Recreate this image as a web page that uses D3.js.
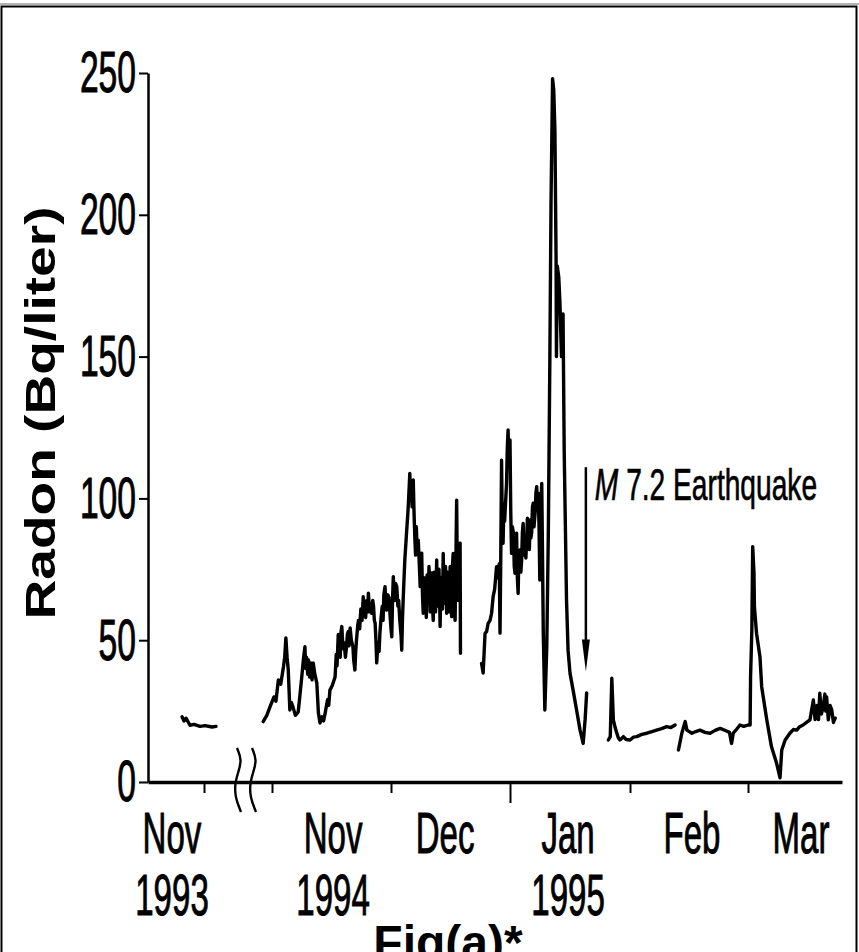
<!DOCTYPE html>
<html>
<head>
<meta charset="utf-8">
<script src="https://cdn.jsdelivr.net/npm/d3@7"></script>
<style>
  body { margin: 0; background: #fff; }
  svg { display: block; }
</style>
</head>
<body>
<svg id="chart" width="859" height="952"></svg>
<script>
// Radon concentration in groundwater (Bq/liter).
// Time is counted in days from 1 Nov 1994 (negative = 1993 record).
const radon1993 = [
  [-346, 23], [-345, 21.5], [-344, 22.5], [-342, 20], [-340, 20.3],
  [-337, 19.6], [-334.5, 19.9], [-331, 19.4], [-329, 19.6]
];
const radonNovDec = [
  [-2.2, 21.3], [-1.3, 23.5], [-0.5, 26.5], [0.5, 30], [1.0, 28.5], [1.6, 36], [2.2, 34.5],
  [2.9, 40.7], [3.2, 44], [3.5, 50.8], [3.8, 44], [4.1, 39.5], [4.5, 25.4], [4.9, 28],
  [5.3, 26.4], [5.9, 23.5], [6.6, 24.7], [7.0, 30], [7.5, 37], [7.9, 43], [8.3, 47.7],
  [8.5, 40], [8.7, 44], [9.0, 38], [9.2, 43], [9.5, 37], [9.8, 42], [10.1, 36],
  [10.4, 42], [10.8, 38], [11.3, 34.9], [11.7, 24.3], [12.1, 20.8], [12.6, 23],
  [13.0, 21.5], [13.4, 24.3], [14.0, 29], [14.3, 27], [14.6, 32.4], [15.2, 34],
  [15.9, 37], [16.2, 45], [16.4, 41], [16.7, 52], [16.9, 46], [17.2, 44], [17.4, 53],
  [17.6, 54.8], [17.9, 47], [18.2, 49], [18.5, 44], [18.8, 47.7], [19.0, 52], [19.2, 53],
  [19.4, 48], [19.7, 54.3], [20.0, 50], [20.4, 47.7], [20.6, 43], [20.9, 39.5], [21.1, 46],
  [21.3, 50], [21.6, 55], [21.8, 57], [22.1, 54], [22.4, 61], [22.7, 57], [23.0, 65.3],
  [23.3, 60], [23.6, 58], [23.9, 64], [24.1, 60], [24.3, 66.6], [24.6, 60], [24.8, 63],
  [25.1, 59.5], [25.4, 64], [25.6, 62], [25.8, 57], [26.0, 56], [26.2, 50], [26.4, 42],
  [26.7, 49], [27.0, 46], [27.2, 52.5], [27.5, 58], [27.8, 62], [28.0, 57], [28.2, 66],
  [28.5, 68.9], [28.7, 62], [28.9, 60.6], [29.2, 66], [29.5, 65], [29.8, 58], [30.0, 54],
  [30.2, 51.2], [30.4, 64], [30.6, 72.4], [30.8, 66], [31.0, 64], [31.2, 70], [31.5, 68.9],
  [31.8, 62], [32.0, 64], [32.3, 57], [32.6, 52], [32.8, 46.5], [33.0, 58], [33.2, 65.3],
  [33.6, 78.3], [34.1, 88.9], [34.4, 95], [34.6, 100], [34.9, 108.8], [35.1, 100],
  [35.3, 104], [35.5, 97], [35.8, 106.5], [36.0, 95], [36.2, 86.5], [36.4, 80], [36.6, 90],
  [36.8, 82], [37.1, 85.3], [37.4, 76], [37.6, 68.9], [37.8, 79], [38.0, 80.7], [38.2, 66],
  [38.4, 59.5], [38.6, 72], [38.8, 64], [39.0, 70], [39.2, 58], [39.4, 73], [39.7, 66.5],
  [39.9, 76], [40.2, 60], [40.4, 71], [40.6, 73.7], [40.8, 62], [41.0, 57], [41.2, 74],
  [41.4, 70], [41.6, 60], [41.9, 78.3], [42.1, 64], [42.3, 62], [42.5, 75], [42.8, 54.8],
  [43.0, 72], [43.2, 70], [43.4, 61], [43.6, 80.6], [43.8, 63], [44.0, 66], [44.2, 76],
  [44.5, 59.5], [44.7, 74], [45.0, 72], [45.2, 60], [45.4, 75.9], [45.6, 64], [45.8, 58.3],
  [46.0, 76], [46.2, 80.6], [46.4, 62], [46.7, 57], [46.9, 78], [47.1, 99.4], [47.3, 70],
  [47.5, 64], [47.7, 82], [48.0, 84.2], [48.1, 45.4]
];
const radonDecJan = [
  [53.6, 41.8], [54.0, 38.4], [54.5, 52.4], [54.9, 53], [55.3, 55.9], [55.8, 57], [56.2, 59.5],
  [56.6, 65.3], [57.0, 68], [57.5, 75.9], [57.8, 72], [58.2, 77], [58.4, 52.5], [58.6, 80],
  [58.8, 113.5], [59.0, 90], [59.2, 84.2], [59.4, 98], [59.6, 92], [59.9, 100], [60.1, 105.3],
  [60.3, 118], [60.5, 124.1], [60.7, 112], [61.0, 120.6], [61.2, 95], [61.4, 80.6],
  [61.6, 90], [61.9, 87.7], [62.1, 76], [62.3, 73.6], [62.5, 86], [62.7, 87.7], [62.9, 72],
  [63.1, 66.5], [63.3, 80], [63.6, 81.8], [63.8, 74], [64.0, 78], [64.2, 88], [64.4, 91.2],
  [64.6, 80], [64.9, 86], [65.1, 79], [65.3, 85.3], [65.5, 93], [65.8, 90], [66.0, 82],
  [66.2, 92.4], [66.4, 86], [66.6, 88], [66.8, 97], [67.0, 98.3], [67.2, 90], [67.5, 95],
  [67.7, 102], [67.9, 104.1], [68.1, 96], [68.3, 101.8], [68.5, 90], [68.7, 71.2], [68.9, 95],
  [69.2, 105.3], [69.4, 80], [69.6, 52.4], [70.0, 25.4], [70.5, 47.7], [70.9, 87.7],
  [71.3, 150], [71.6, 205], [72.0, 248], [72.3, 244], [72.6, 230], [72.9, 185], [73.0, 150],
  [73.2, 182], [73.6, 178], [73.9, 169], [74.3, 150], [74.7, 165], [75.0, 117], [75.2, 99.4],
  [75.6, 64.2], [76.0, 46.5], [76.5, 38.4], [77.3, 32.4], [78.2, 25.4], [79.1, 18.3],
  [79.9, 13.6], [80.4, 21.9], [80.8, 31.4]
];
const radonJanFeb = [
  [86.4, 14.8], [86.9, 16], [87.3, 36.6], [87.7, 21.9], [88.2, 19], [88.6, 17.2],
  [89.0, 15.5], [89.4, 14.8], [90.3, 16], [91.0, 15], [92.0, 14.8], [92.8, 15.8],
  [93.6, 16], [94.8, 16.8], [96.0, 17.2], [97.2, 17.8], [98.3, 18.3], [99.5, 18.8],
  [100.7, 19.5], [101.7, 19.2], [102.7, 20.1]
];
const radonFebMar = [
  [103.5, 11.3], [104.3, 17.2], [105.1, 21.3], [105.5, 18.3], [106.7, 17.2], [107.6, 17.8],
  [108.6, 18.3], [109.8, 17.5], [111.0, 17.2], [112.2, 18.2], [113.4, 18.9], [114.9, 18],
  [115.6, 17.5], [116.1, 13.6], [116.5, 17.2], [117.3, 18.6], [118.1, 20.1], [119.0, 19.6],
  [120.0, 20.1], [120.5, 20.1], [120.6, 37.1], [120.9, 53.6], [121.1, 83], [121.4, 73.6],
  [121.5, 61.8], [122.0, 52.4], [122.8, 44.2], [123.2, 33.6], [124.4, 21.9], [125.5, 12.4],
  [126.7, 6.6], [127.5, 1.5], [127.9, 11.3], [128.7, 14.8], [129.8, 17.2], [130.6, 18.5],
  [131.4, 18.3], [132.1, 19.5], [132.9, 20.1], [133.7, 21], [134.5, 21.9], [135.3, 28.9],
  [135.7, 22], [136.1, 27], [136.5, 22], [136.8, 31.3], [137.2, 24], [137.6, 26.5],
  [138.0, 31], [138.2, 25], [138.4, 30], [138.8, 21.9], [139.2, 27], [139.6, 25.4],
  [140.0, 21], [140.4, 22.5]
];
const segments = [radon1993, radonNovDec, radonDecJan, radonJanFeb, radonFebMar];

const yTicks = [0, 50, 100, 150, 200, 250];
const monthTicks = [-335, 0, 30, 61, 92, 120];   // month boundaries
const yearTicks = [61];                          // 1 Jan 1995
const monthLabels = [
  { day: -351, month: "Nov", year: "1993" },
  { day: 15.4, month: "Nov", year: "1994" },
  { day: 44.1, month: "Dec", year: "" },
  { day: 76.0, month: "Jan", year: "1995" },
  { day: 106.7, month: "Feb", year: "" },
  { day: 132.4, month: "Mar", year: "" }
];
const axisBreak = [-317, -5];
const quake = { day: 80.6, from: 111, to: 39, mag: "M", text: "7.2 Earthquake" };

const svg = d3.select("#chart");
const FONT = "'Liberation Sans', Arial, Helvetica, sans-serif";
const NARROW = 0.57;

// Broken time axis: 1993 stretch, gap, then Nov 1994 – Mar 1995
const x = d3.scaleLinear()
  .domain([-363, -335, -317, -5, 0, 30, 61, 92, 120, 142])
  .range([148, 204, 240, 252, 272, 391, 510, 630, 748, 842]);
const y = d3.scaleLinear().domain([0, 250]).range([782, 73]);

// page frame
svg.append("line").attr("x1", 0).attr("x2", 859).attr("y1", 4).attr("y2", 4)
  .attr("stroke", "#999").attr("stroke-width", 1.5);
svg.append("rect").attr("x", 1.5).attr("y", 6.5).attr("width", 855).attr("height", 1000)
  .attr("fill", "none").attr("stroke", "#000").attr("stroke-width", 2);

// radon trace
const line = d3.line().x(d => x(d[0])).y(d => y(d[1]));
svg.append("g").selectAll("path").data(segments).join("path")
  .attr("d", line)
  .attr("fill", "none").attr("stroke", "#000")
  .attr("stroke-width", 3.4).attr("stroke-linejoin", "round").attr("stroke-linecap", "round");

// y axis
const gy = svg.append("g").attr("transform", `translate(${x.range()[0]},0)`)
  .call(d3.axisLeft(y).tickValues(yTicks).tickSize(9).tickSizeOuter(0));
gy.select(".domain").attr("stroke-width", 2.5);
gy.selectAll(".tick line").attr("stroke-width", 2);
gy.selectAll(".tick text")
  .attr("font-family", FONT).attr("font-size", 57).attr("fill", "#000")
  .attr("stroke", "#000").attr("stroke-width", 1)
  .attr("transform", `scale(${NARROW + 0.02},1)`)
  .attr("x", -12 / (NARROW + 0.02)).attr("dy", "0.33em");

// x axis
const gx = svg.append("g").attr("transform", `translate(0,${y(0)})`)
  .call(d3.axisBottom(x).tickValues(monthTicks).tickSize(11).tickSizeOuter(0).tickFormat(""));
gx.select(".domain").attr("stroke-width", 3.5);
gx.selectAll(".tick line").attr("stroke-width", 2)
  .attr("y2", d => yearTicks.includes(d) ? 21 : 11);

// axis break marks
const breakShape = [[0, -34], [5, -22], [1, -9], [-2, 1], [-2, 15], [4, 30]];
const breakLine = d3.line().curve(d3.curveBasis);
svg.append("g").selectAll("path").data([x(axisBreak[0]) - 3, x(axisBreak[1]) + 0]).join("path")
  .attr("d", bx => breakLine(breakShape.map(p => [bx + p[0], y(0) + p[1]])))
  .attr("fill", "none").attr("stroke", "#000").attr("stroke-width", 2.4);

// month and year labels
const lab = svg.append("g").attr("font-family", FONT).attr("font-size", 58)
  .attr("text-anchor", "middle").attr("fill", "#000")
  .attr("stroke", "#000").attr("stroke-width", 1);
lab.selectAll("text.m").data(monthLabels).join("text").attr("class", "m")
  .attr("transform", d => `translate(${x(d.day)},853) scale(${NARROW},1)`)
  .text(d => d.month);
lab.selectAll("text.yr").data(monthLabels.filter(d => d.year)).join("text").attr("class", "yr")
  .attr("transform", d => `translate(${x(d.day)},915) scale(${NARROW},1)`)
  .text(d => d.year);

// y axis title
svg.append("text")
  .attr("transform", "translate(55,413) rotate(-90)")
  .attr("text-anchor", "middle")
  .attr("font-family", FONT).attr("font-weight", "bold").attr("font-size", 42)
  .attr("textLength", 413).attr("lengthAdjust", "spacingAndGlyphs")
  .text("Radon (Bq/liter)");

// earthquake marker
const qx = x(quake.day);
svg.append("line").attr("x1", qx).attr("x2", qx)
  .attr("y1", y(quake.from)).attr("y2", y(quake.to) - 28)
  .attr("stroke", "#000").attr("stroke-width", 2.5);
svg.append("path")
  .attr("d", `M${qx - 4},${y(quake.to) - 32} L${qx + 4},${y(quake.to) - 32} L${qx},${y(quake.to)} Z`)
  .attr("fill", "#000");
const qt = svg.append("text")
  .attr("transform", `translate(${qx + 9},${y(quake.from) + 33}) scale(0.64,1)`)
  .attr("font-family", FONT).attr("font-size", 44).attr("fill", "#000")
  .attr("stroke", "#000").attr("stroke-width", 0.7);
qt.append("tspan").attr("font-style", "italic").text(quake.mag);
qt.append("tspan").text(" " + quake.text);

// caption
svg.append("text")
  .attr("x", 448).attr("y", 959)
  .attr("text-anchor", "middle")
  .attr("font-family", FONT).attr("font-weight", "bold").attr("font-size", 48)
  .text("Fig(a)*");
</script>
</body>
</html>
